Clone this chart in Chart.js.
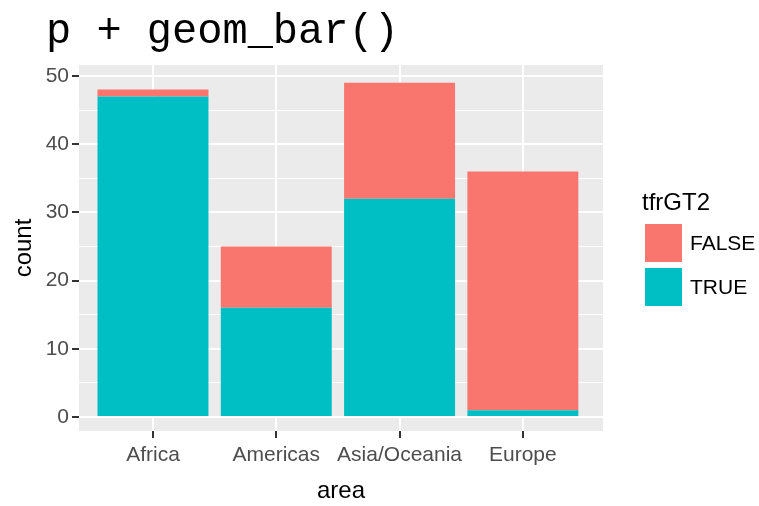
<!DOCTYPE html>
<html>
<head>
<meta charset="utf-8">
<script src="https://cdn.jsdelivr.net/npm/chart.js@4.4.1/dist/chart.umd.min.js"></script>
<style>
  html, body { margin: 0; padding: 0; background: #fff; }
  #wrap { width: 759px; height: 506px; }
</style>
</head>
<body>
<div id="wrap"><canvas id="barChart" width="759" height="506"></canvas></div>
<script>
// data
const areas = ['Africa', 'Americas', 'Asia/Oceania', 'Europe'];
const countTrue = [47, 16, 32, 1];
const countFalse = [1, 9, 17, 35];
const yTicks = [0, 5, 10, 15, 20, 25, 30, 35, 40, 45, 50];

const RED = '#F8766D';
const TEAL = '#00BFC4';
const FONT = "'Liberation Sans', Arial, sans-serif";

// grey panel behind the bars
const panelBg = {
  id: 'panelBg',
  beforeDraw(chart) {
    const { ctx, chartArea: a } = chart;
    ctx.save();
    ctx.fillStyle = '#EBEBEB';
    ctx.fillRect(a.left, a.top, a.right - a.left, a.bottom - a.top);
    ctx.restore();
  }
};

// code title above the plot
const codeTitle = {
  id: 'codeTitle',
  afterDraw(chart) {
    const ctx = chart.ctx;
    ctx.save();
    ctx.font = "42px 'Liberation Mono', 'Courier New', monospace";
    ctx.fillStyle = '#000';
    ctx.textBaseline = 'alphabetic';
    ctx.fillText('p + geom_bar()', 46, 43);
    ctx.restore();
  }
};

// ggplot style legend on the right
const sideLegend = {
  id: 'sideLegend',
  afterDraw(chart) {
    const ctx = chart.ctx;
    ctx.save();
    ctx.fillStyle = '#000';
    ctx.textBaseline = 'middle';
    ctx.font = '24px ' + FONT;
    ctx.fillText('tfrGT2', 642, 203);
    const items = chart.data.datasets.slice().reverse();
    items.forEach((ds, i) => {
      const y = 224 + i * 44;
      ctx.fillStyle = ds.backgroundColor;
      ctx.fillRect(645, y, 37, 38);
      ctx.fillStyle = '#000';
      ctx.font = '21px ' + FONT;
      ctx.fillText(ds.label, 690, y + 20);
    });
    ctx.restore();
  }
};

const ctx = document.getElementById('barChart').getContext('2d');

new Chart(ctx, {
  type: 'bar',
  data: {
    datasets: [
      {
        label: 'TRUE',
        data: countTrue.map((v, i) => ({ x: i + 1, y: v })),
        backgroundColor: TEAL,
        borderWidth: 0
      },
      {
        label: 'FALSE',
        data: countFalse.map((v, i) => ({ x: i + 1, y: v })),
        backgroundColor: RED,
        borderWidth: 0
      }
    ]
  },
  options: {
    responsive: false,
    animation: false,
    layout: { padding: { top: 65, right: 156, bottom: 0, left: 0 } },
    datasets: { bar: { barPercentage: 0.9, categoryPercentage: 1 } },
    plugins: {
      legend: { display: false },
      tooltip: { enabled: false }
    },
    scales: {
      x: {
        type: 'linear',
        stacked: true,
        offset: false,
        min: 0.4,
        max: 4.65,
        afterBuildTicks: (scale) => { scale.ticks = areas.map((a, i) => ({ value: i + 1 })); },
        afterFit: (scale) => { scale.height = 75; },
        border: { display: false },
        grid: {
          offset: false,
          color: '#FFFFFF',
          lineWidth: 2,
          tickColor: '#333333',
          tickWidth: 2,
          tickLength: 7
        },
        ticks: {
          padding: 5,
          color: '#4D4D4D',
          font: { family: FONT, size: 21 },
          maxRotation: 0,
          autoSkip: false,
          callback: (v) => areas[Math.round(v) - 1]
        },
        title: {
          display: true,
          text: 'area',
          color: '#000',
          font: { family: FONT, size: 24 },
          padding: { top: 0, bottom: 0 }
        }
      },
      y: {
        stacked: true,
        min: -2.05,
        max: 51.6,
        afterBuildTicks: (scale) => { scale.ticks = yTicks.map(v => ({ value: v })); },
        afterFit: (scale) => { scale.width = 79; },
        border: { display: false },
        grid: {
          color: '#FFFFFF',
          lineWidth: (c) => (c.tick && c.tick.value % 10 === 0 ? 2 : 1),
          tickColor: (c) => (c.tick && c.tick.value % 10 === 0 ? '#333333' : 'rgba(0,0,0,0)'),
          tickWidth: 2,
          tickLength: 7
        },
        ticks: {
          padding: 3,
          color: '#4D4D4D',
          font: { family: FONT, size: 21 },
          autoSkip: false,
          callback: (v) => (v % 10 === 0 ? String(v) : '')
        },
        title: {
          display: true,
          text: 'count',
          color: '#000',
          font: { family: FONT, size: 24 },
          padding: { top: 10, bottom: 0 }
        }
      }
    }
  },
  plugins: [panelBg, codeTitle, sideLegend]
});
</script>
</body>
</html>
